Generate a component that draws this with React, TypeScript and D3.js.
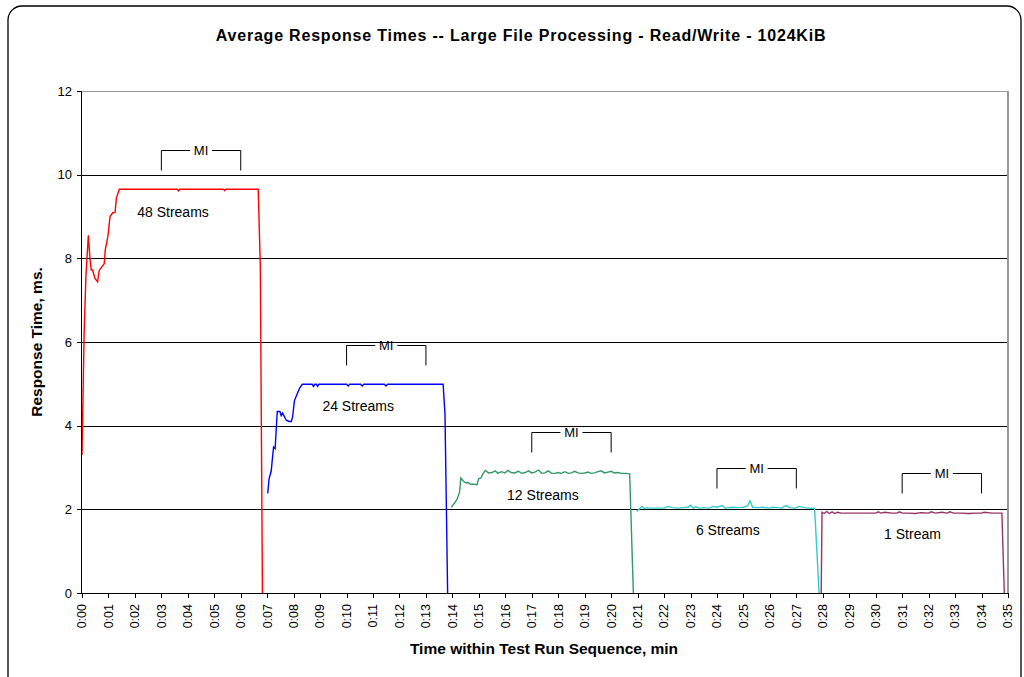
import * as d3 from "d3";

const width = 1024;
const height = 677;
const margin = { top: 91, right: 16, bottom: 84, left: 82 };

// time in minutes, response time in ms
const redT = [0, 0.08, 0.15, 0.24, 0.3, 0.35, 0.4, 0.49, 0.59, 0.65, 0.74, 0.84, 0.88, 0.98, 1.06, 1.16, 1.25, 1.3, 1.41, 2.0, 3.0, 3.6, 3.65, 3.7, 4.5, 5.35, 5.39, 5.43, 6.0, 6.66, 6.74, 6.82];
const redV = [3.3, 6.2, 7.6, 8.55, 8.0, 7.72, 7.72, 7.52, 7.44, 7.71, 7.79, 7.87, 8.2, 8.53, 9.0, 9.09, 9.1, 9.44, 9.65, 9.65, 9.65, 9.65, 9.61, 9.65, 9.65, 9.65, 9.62, 9.65, 9.65, 9.65, 7.8, 0];

const blueT = [7.02, 7.07, 7.15, 7.24, 7.3, 7.38, 7.48, 7.53, 7.58, 7.63, 7.72, 7.83, 7.91, 7.96, 8.03, 8.12, 8.22, 8.33, 8.7, 8.75, 8.8, 8.86, 8.9, 8.95, 9.5, 10.0, 10.06, 10.12, 10.53, 10.59, 10.65, 11.0, 11.43, 11.49, 11.55, 12.5, 13.65, 13.72, 13.82];
const blueV = [2.38, 2.73, 2.91, 3.49, 3.45, 4.34, 4.34, 4.24, 4.3, 4.24, 4.13, 4.1, 4.1, 4.21, 4.6, 4.74, 4.89, 4.99, 4.99, 4.94, 4.99, 4.99, 4.94, 4.99, 4.99, 4.99, 4.95, 4.99, 4.99, 4.95, 4.99, 4.99, 4.99, 4.95, 4.99, 4.99, 4.99, 4.27, 0];

const greenT = [13.96, 14.17, 14.27, 14.32, 14.42, 14.52, 14.6, 14.69, 14.84, 14.93, 14.99, 15.08, 15.14, 15.24, 15.37, 15.5, 15.62, 15.72, 15.85, 15.98, 16.1, 16.22, 16.35, 16.5, 16.62, 16.75, 16.88, 17.0, 17.12, 17.25, 17.38, 17.5, 17.62, 17.75, 17.88, 18.0, 18.12, 18.25, 18.38, 18.5, 18.62, 18.75, 18.88, 19.0, 19.12, 19.25, 19.38, 19.5, 19.62, 19.75, 19.88, 20.0, 20.12, 20.25, 20.4, 20.55, 20.7, 20.84];
const greenV = [2.05, 2.23, 2.41, 2.75, 2.67, 2.63, 2.64, 2.6, 2.6, 2.59, 2.73, 2.75, 2.83, 2.93, 2.87, 2.88, 2.92, 2.86, 2.9, 2.87, 2.93, 2.88, 2.87, 2.91, 2.86, 2.88, 2.92, 2.87, 2.89, 2.94, 2.86, 2.87, 2.92, 2.86, 2.86, 2.88, 2.86, 2.9, 2.86, 2.87, 2.91, 2.87, 2.86, 2.87, 2.89, 2.86, 2.87, 2.9, 2.92, 2.87, 2.89, 2.91, 2.87, 2.88, 2.86, 2.86, 2.85, 0];

const cyanT = [20.97, 21.0, 21.1, 21.16, 21.25, 21.35, 21.45, 21.6, 21.8, 22.0, 22.15, 22.3, 22.5, 22.7, 22.9, 23.0, 23.1, 23.2, 23.35, 23.5, 23.7, 23.85, 24.0, 24.2, 24.3, 24.45, 24.6, 24.8, 25.0, 25.15, 25.25, 25.35, 25.55, 25.75, 25.95, 26.1, 26.3, 26.45, 26.6, 26.75, 26.95, 27.1, 27.3, 27.5, 27.69, 27.86];
const cyanV = [1.95, 1.97, 2.03, 2.07, 2.02, 2.04, 2.03, 2.03, 2.03, 2.03, 2.07, 2.04, 2.03, 2.04, 2.05, 2.1, 2.03, 2.06, 2.03, 2.04, 2.03, 2.07, 2.05, 2.09, 2.03, 2.04, 2.05, 2.04, 2.05, 2.08, 2.2, 2.05, 2.04, 2.05, 2.03, 2.05, 2.04, 2.03, 2.09, 2.04, 2.03, 2.07, 2.04, 2.03, 2.02, 0];

const plumT = [27.94, 27.97, 28.05, 28.15, 28.25, 28.35, 28.45, 28.55, 28.7, 29.0, 29.5, 30.0, 30.1, 30.2, 30.35, 30.6, 30.8, 30.9, 31.0, 31.2, 31.5, 31.7, 32.0, 32.1, 32.25, 32.5, 32.7, 32.8, 32.95, 33.2, 33.5, 33.8, 34.0, 34.1, 34.4, 34.77, 34.86];
const plumV = [0, 1.93, 1.9, 1.95, 1.9, 1.94, 1.9, 1.93, 1.91, 1.91, 1.91, 1.91, 1.94, 1.91, 1.93, 1.91, 1.91, 1.94, 1.91, 1.91, 1.9, 1.92, 1.91, 1.94, 1.91, 1.93, 1.91, 1.94, 1.91, 1.91, 1.9, 1.91, 1.91, 1.93, 1.91, 1.91, 0];

const series = [
  { t: redT, v: redV, color: "#ff0000" },
  { t: blueT, v: blueV, color: "#0000ff" },
  { t: greenT, v: greenV, color: "#339966" },
  { t: cyanT, v: cyanV, color: "#33cccc" },
  { t: plumT, v: plumV, color: "#993366" },
];

const streamLabels = ["48 Streams", "24 Streams", "12 Streams", "6 Streams", "1 Stream"];
const labelT = [3.44, 10.44, 17.42, 24.41, 31.39];
const labelV = [9.11, 4.46, 2.33, 1.5, 1.4];

// measurement interval brackets: start, end, level
const miStart = [3, 10, 17, 24, 31];
const miEnd = [6, 13, 20, 27, 34];
const miLevel = [10.6, 5.94, 3.84, 3.0, 2.87];

const yTicks = [0, 2, 4, 6, 8, 10, 12];
const xTicks = d3.range(0, 36);
const fmtMin = (m: number) => `0:${String(m).padStart(2, "0")}`;

const font = "Arial, 'Liberation Sans', sans-serif";

export default function App() {
  const x = d3.scaleLinear().domain([0, 35]).range([margin.left, width - margin.right]);
  const y = d3.scaleLinear().domain([0, 12]).range([height - margin.bottom, margin.top]);
  const x0 = x(0), x1 = x(35), y0 = y(0), y1 = y(12);

  const line = d3
    .line<[number, number]>()
    .x((d) => x(d[0]))
    .y((d) => y(d[1]));

  return (
    <svg
      width={width}
      height={height}
      style={{ position: "absolute", left: 0, top: 0, background: "#fff" }}
      fontFamily={font}
    >
      <rect x={8} y={6} width={1013} height={690} rx={14} fill="#fff" stroke="#000" strokeWidth={1.3} />

      <text x={521} y={41} textAnchor="middle" fontSize={16} fontWeight="bold" letterSpacing={0.8}>
        Average Response Times -- Large File Processing - Read/Write - 1024KiB
      </text>

      {/* gridlines */}
      {yTicks.filter((d) => d > 0 && d < 12).map((d) => (
        <line key={d} x1={x0} x2={x1} y1={Math.round(y(d)) + 0.5} y2={Math.round(y(d)) + 0.5} stroke="#000" strokeWidth={1} />
      ))}
      {/* plot border */}
      <line x1={x0} x2={x1} y1={y1 + 0.5} y2={y1 + 0.5} stroke="#999" strokeWidth={1} />
      <line x1={x1} x2={x1} y1={y1} y2={y0} stroke="#999" strokeWidth={2} />

      {/* series */}
      {series.map((s, i) => (
        <path
          key={i}
          d={line(s.t.map((t, j) => [t, s.v[j]] as [number, number])) || ""}
          fill="none"
          stroke={s.color}
          strokeWidth={1.4}
        />
      ))}

      {/* axes */}
      <line x1={x0 - 0.5} x2={x0 - 0.5} y1={y1} y2={y0} stroke="#000" strokeWidth={1} />
      <line x1={x0} x2={x1} y1={Math.round(y0) + 0.5} y2={Math.round(y0) + 0.5} stroke="#000" strokeWidth={1} />
      {yTicks.map((d) => (
        <g key={d}>
          <line x1={x0 - 5} x2={x0} y1={Math.round(y(d)) + 0.5} y2={Math.round(y(d)) + 0.5} stroke="#000" />
          <text x={x0 - 10} y={y(d)} dy="0.35em" textAnchor="end" fontSize={13}>
            {d}
          </text>
        </g>
      ))}
      {xTicks.map((m) => (
        <g key={m}>
          <line x1={Math.round(x(m)) + 0.5} x2={Math.round(x(m)) + 0.5} y1={y0} y2={y0 + 5} stroke="#000" />
          <text
            transform={`translate(${x(m)},${y0 + 11}) rotate(-90)`}
            textAnchor="end"
            dy="0.35em"
            fontSize={12.5}
          >
            {fmtMin(m)}
          </text>
        </g>
      ))}

      {/* stream labels */}
      {streamLabels.map((s, i) => (
        <text key={s} x={x(labelT[i])} y={y(labelV[i])} dy="0.35em" textAnchor="middle" fontSize={14}>
          {s}
        </text>
      ))}

      {/* MI brackets */}
      {miStart.map((s, i) => {
        const xs = x(s), xe = x(miEnd[i]), xm = (xs + xe) / 2;
        const yt = Math.round(y(miLevel[i])) + 0.5;
        return (
          <g key={i} stroke="#000" strokeWidth={1} fill="none">
            <path d={`M${xs},${yt + 20}V${yt}H${xm - 11}`} />
            <path d={`M${xm + 11},${yt}H${xe}V${yt + 20}`} />
            <text x={xm} y={yt} dy="0.35em" textAnchor="middle" fontSize={13} stroke="none" fill="#000">
              MI
            </text>
          </g>
        );
      })}

      <text x={544} y={654} textAnchor="middle" fontSize={15.5} fontWeight="bold">
        Time within Test Run Sequence, min
      </text>
      <text transform="translate(42,342) rotate(-90)" textAnchor="middle" fontSize={15.5} fontWeight="bold">
        Response Time, ms.
      </text>
    </svg>
  );
}
